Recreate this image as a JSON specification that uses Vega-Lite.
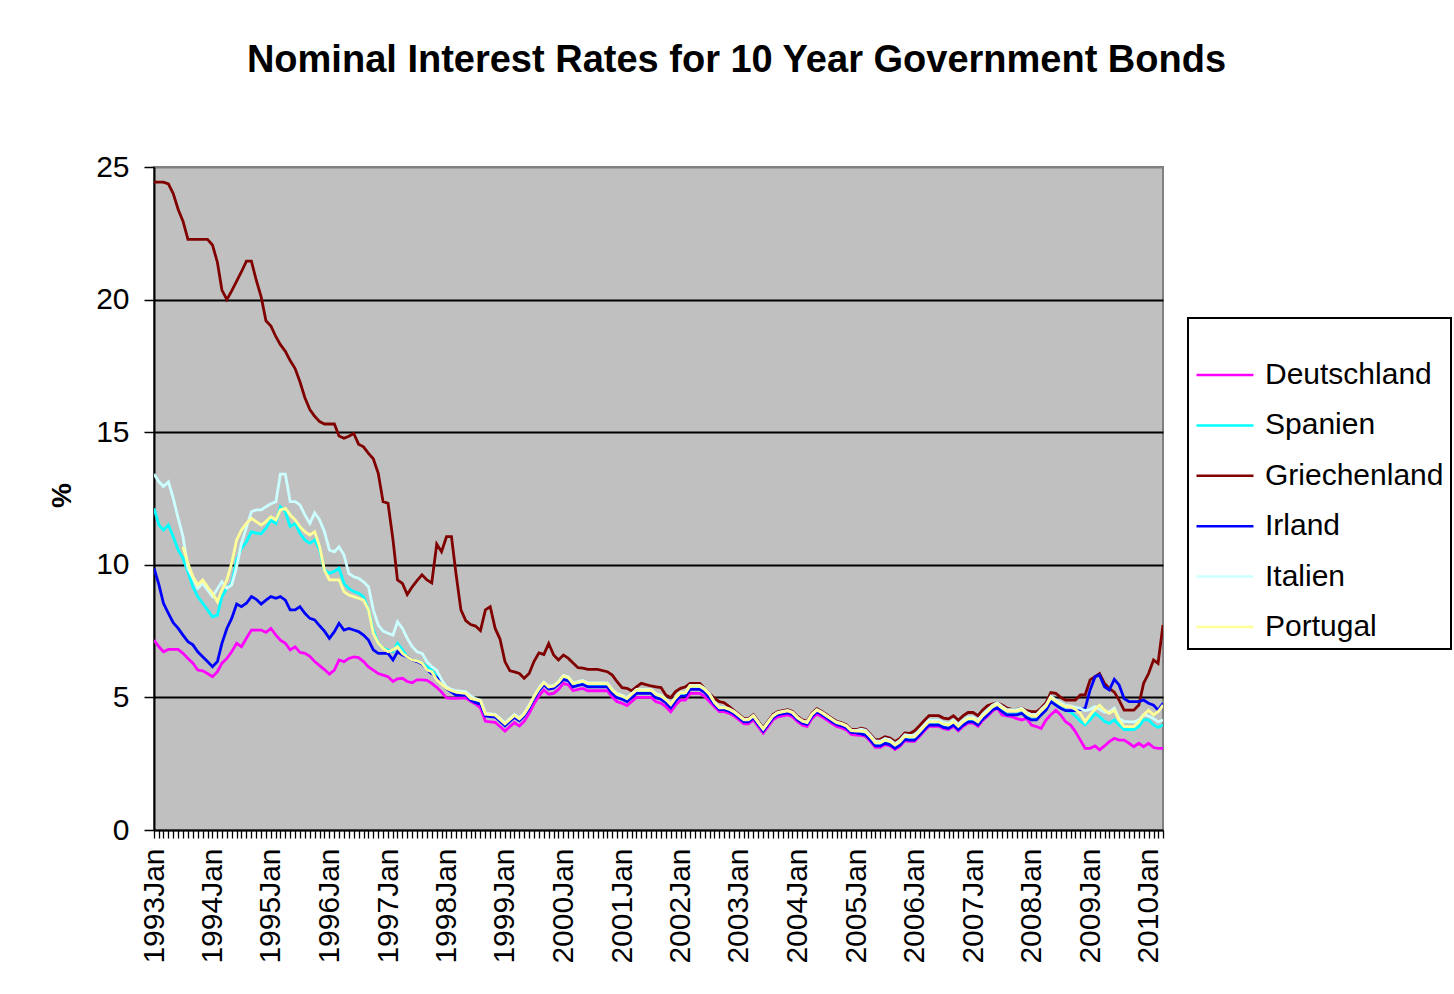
{
  "$schema": "https://vega.github.io/schema/vega-lite/v6.json",
  "autosize": {"type": "none"},
  "width": 1009,
  "height": 663,
  "padding": {"left": 154, "top": 167, "right": 291, "bottom": 164},
  "background": "white",
  "config": {
    "font": "Liberation Sans",
    "view": {"fill": "#C0C0C0", "stroke": "#808080", "strokeWidth": 2}
  },
  "title": {
    "text": "Nominal Interest Rates for 10 Year Government Bonds",
    "font": "Liberation Sans",
    "fontSize": 38,
    "fontWeight": "bold",
    "color": "black",
    "anchor": "middle",
    "dx": 78,
    "offset": 72
  },
  "data": {
    "values": [
      {"month": "1993-01-01", "Deutschland": 7.16, "Spanien": 12.13, "Griechenland": 24.43, "Irland": 9.87, "Italien": 13.42, "Portugal": null},
      {"month": "1993-02-01", "Deutschland": 6.91, "Spanien": 11.5, "Griechenland": 24.43, "Irland": 9.24, "Italien": 13.13, "Portugal": null},
      {"month": "1993-03-01", "Deutschland": 6.72, "Spanien": 11.31, "Griechenland": 24.43, "Irland": 8.55, "Italien": 12.95, "Portugal": null},
      {"month": "1993-04-01", "Deutschland": 6.81, "Spanien": 11.5, "Griechenland": 24.36, "Irland": 8.17, "Italien": 13.13, "Portugal": null},
      {"month": "1993-05-01", "Deutschland": 6.81, "Spanien": 11.06, "Griechenland": 24.0, "Irland": 7.82, "Italien": 12.51, "Portugal": null},
      {"month": "1993-06-01", "Deutschland": 6.81, "Spanien": 10.56, "Griechenland": 23.4, "Irland": 7.6, "Italien": 11.75, "Portugal": null},
      {"month": "1993-07-01", "Deutschland": 6.66, "Spanien": 10.24, "Griechenland": 22.96, "Irland": 7.35, "Italien": 11.06, "Portugal": 10.68},
      {"month": "1993-08-01", "Deutschland": 6.47, "Spanien": 9.74, "Griechenland": 22.27, "Irland": 7.1, "Italien": 9.87, "Portugal": 10.06},
      {"month": "1993-09-01", "Deutschland": 6.29, "Spanien": 9.17, "Griechenland": 22.27, "Irland": 6.98, "Italien": 9.5, "Portugal": 9.55},
      {"month": "1993-10-01", "Deutschland": 6.03, "Spanien": 8.8, "Griechenland": 22.27, "Irland": 6.72, "Italien": 9.11, "Portugal": 9.24},
      {"month": "1993-11-01", "Deutschland": 6.0, "Spanien": 8.55, "Griechenland": 22.27, "Irland": 6.53, "Italien": 9.3, "Portugal": 9.43},
      {"month": "1993-12-01", "Deutschland": 5.9, "Spanien": 8.3, "Griechenland": 22.27, "Irland": 6.35, "Italien": 9.05, "Portugal": 9.17},
      {"month": "1994-01-01", "Deutschland": 5.78, "Spanien": 8.04, "Griechenland": 22.06, "Irland": 6.16, "Italien": 8.8, "Portugal": 8.93},
      {"month": "1994-02-01", "Deutschland": 5.97, "Spanien": 8.1, "Griechenland": 21.4, "Irland": 6.35, "Italien": 9.1, "Portugal": 8.61},
      {"month": "1994-03-01", "Deutschland": 6.29, "Spanien": 8.8, "Griechenland": 20.36, "Irland": 7.04, "Italien": 9.36, "Portugal": 9.05},
      {"month": "1994-04-01", "Deutschland": 6.47, "Spanien": 9.11, "Griechenland": 20.0, "Irland": 7.6, "Italien": 9.11, "Portugal": 9.43},
      {"month": "1994-05-01", "Deutschland": 6.72, "Spanien": 9.3, "Griechenland": 20.33, "Irland": 7.98, "Italien": 9.24, "Portugal": 10.06},
      {"month": "1994-06-01", "Deutschland": 7.04, "Spanien": 10.18, "Griechenland": 20.7, "Irland": 8.52, "Italien": 9.93, "Portugal": 10.94},
      {"month": "1994-07-01", "Deutschland": 6.91, "Spanien": 10.62, "Griechenland": 21.05, "Irland": 8.42, "Italien": 10.81, "Portugal": 11.31},
      {"month": "1994-08-01", "Deutschland": 7.23, "Spanien": 10.87, "Griechenland": 21.45, "Irland": 8.55, "Italien": 11.41, "Portugal": 11.56},
      {"month": "1994-09-01", "Deutschland": 7.54, "Spanien": 11.25, "Griechenland": 21.45, "Irland": 8.8, "Italien": 12.0, "Portugal": 11.75},
      {"month": "1994-10-01", "Deutschland": 7.54, "Spanien": 11.19, "Griechenland": 20.74, "Irland": 8.7, "Italien": 12.07, "Portugal": 11.63},
      {"month": "1994-11-01", "Deutschland": 7.54, "Spanien": 11.17, "Griechenland": 20.1, "Irland": 8.52, "Italien": 12.07, "Portugal": 11.5},
      {"month": "1994-12-01", "Deutschland": 7.45, "Spanien": 11.38, "Griechenland": 19.2, "Irland": 8.67, "Italien": 12.19, "Portugal": 11.63},
      {"month": "1995-01-01", "Deutschland": 7.6, "Spanien": 11.69, "Griechenland": 19.0, "Irland": 8.8, "Italien": 12.3, "Portugal": 11.81},
      {"month": "1995-02-01", "Deutschland": 7.35, "Spanien": 11.56, "Griechenland": 18.6, "Irland": 8.74, "Italien": 12.38, "Portugal": 11.69},
      {"month": "1995-03-01", "Deutschland": 7.16, "Spanien": 12.19, "Griechenland": 18.3, "Irland": 8.8, "Italien": 13.42, "Portugal": 12.07},
      {"month": "1995-04-01", "Deutschland": 7.04, "Spanien": 12.0, "Griechenland": 18.05, "Irland": 8.67, "Italien": 13.42, "Portugal": 12.13},
      {"month": "1995-05-01", "Deutschland": 6.79, "Spanien": 11.44, "Griechenland": 17.7, "Irland": 8.3, "Italien": 12.38, "Portugal": 11.88},
      {"month": "1995-06-01", "Deutschland": 6.91, "Spanien": 11.56, "Griechenland": 17.4, "Irland": 8.3, "Italien": 12.38, "Portugal": 11.69},
      {"month": "1995-07-01", "Deutschland": 6.7, "Spanien": 11.19, "Griechenland": 16.9, "Irland": 8.42, "Italien": 12.26, "Portugal": 11.44},
      {"month": "1995-08-01", "Deutschland": 6.66, "Spanien": 10.94, "Griechenland": 16.3, "Irland": 8.17, "Italien": 11.88, "Portugal": 11.25},
      {"month": "1995-09-01", "Deutschland": 6.55, "Spanien": 10.81, "Griechenland": 15.85, "Irland": 7.98, "Italien": 11.56, "Portugal": 11.12},
      {"month": "1995-10-01", "Deutschland": 6.35, "Spanien": 10.94, "Griechenland": 15.6, "Irland": 7.92, "Italien": 11.96, "Portugal": 11.25},
      {"month": "1995-11-01", "Deutschland": 6.2, "Spanien": 10.56, "Griechenland": 15.4, "Irland": 7.7, "Italien": 11.69, "Portugal": 10.68},
      {"month": "1995-12-01", "Deutschland": 6.05, "Spanien": 9.8, "Griechenland": 15.31, "Irland": 7.5, "Italien": 11.25, "Portugal": 9.8},
      {"month": "1996-01-01", "Deutschland": 5.88, "Spanien": 9.68, "Griechenland": 15.31, "Irland": 7.23, "Italien": 10.56, "Portugal": 9.43},
      {"month": "1996-02-01", "Deutschland": 6.03, "Spanien": 9.75, "Griechenland": 15.31, "Irland": 7.48, "Italien": 10.49, "Portugal": 9.43},
      {"month": "1996-03-01", "Deutschland": 6.41, "Spanien": 9.87, "Griechenland": 14.86, "Irland": 7.79, "Italien": 10.68, "Portugal": 9.43},
      {"month": "1996-04-01", "Deutschland": 6.35, "Spanien": 9.3, "Griechenland": 14.77, "Irland": 7.54, "Italien": 10.37, "Portugal": 8.99},
      {"month": "1996-05-01", "Deutschland": 6.47, "Spanien": 9.11, "Griechenland": 14.85, "Irland": 7.6, "Italien": 9.68, "Portugal": 8.86},
      {"month": "1996-06-01", "Deutschland": 6.53, "Spanien": 8.99, "Griechenland": 14.95, "Irland": 7.54, "Italien": 9.55, "Portugal": 8.8},
      {"month": "1996-07-01", "Deutschland": 6.5, "Spanien": 8.93, "Griechenland": 14.55, "Irland": 7.48, "Italien": 9.49, "Portugal": 8.74},
      {"month": "1996-08-01", "Deutschland": 6.35, "Spanien": 8.8, "Griechenland": 14.45, "Irland": 7.35, "Italien": 9.36, "Portugal": 8.67},
      {"month": "1996-09-01", "Deutschland": 6.15, "Spanien": 8.3, "Griechenland": 14.2, "Irland": 7.16, "Italien": 9.17, "Portugal": 8.3},
      {"month": "1996-10-01", "Deutschland": 6.03, "Spanien": 7.54, "Griechenland": 14.0, "Irland": 6.79, "Italien": 8.3, "Portugal": 7.42},
      {"month": "1996-11-01", "Deutschland": 5.9, "Spanien": 7.04, "Griechenland": 13.45, "Irland": 6.66, "Italien": 7.73, "Portugal": 7.04},
      {"month": "1996-12-01", "Deutschland": 5.84, "Spanien": 6.85, "Griechenland": 12.38, "Irland": 6.66, "Italien": 7.5, "Portugal": 6.85},
      {"month": "1997-01-01", "Deutschland": 5.78, "Spanien": 6.79, "Griechenland": 12.32, "Irland": 6.66, "Italien": 7.42, "Portugal": 6.72},
      {"month": "1997-02-01", "Deutschland": 5.6, "Spanien": 6.72, "Griechenland": 10.94, "Irland": 6.41, "Italien": 7.35, "Portugal": 6.79},
      {"month": "1997-03-01", "Deutschland": 5.7, "Spanien": 7.04, "Griechenland": 9.43, "Irland": 6.72, "Italien": 7.85, "Portugal": 6.91},
      {"month": "1997-04-01", "Deutschland": 5.72, "Spanien": 6.79, "Griechenland": 9.3, "Irland": 6.6, "Italien": 7.6, "Portugal": 6.66},
      {"month": "1997-05-01", "Deutschland": 5.6, "Spanien": 6.53, "Griechenland": 8.88, "Irland": 6.53, "Italien": 7.23, "Portugal": 6.53},
      {"month": "1997-06-01", "Deutschland": 5.55, "Spanien": 6.41, "Griechenland": 9.17, "Irland": 6.41, "Italien": 6.91, "Portugal": 6.41},
      {"month": "1997-07-01", "Deutschland": 5.66, "Spanien": 6.38, "Griechenland": 9.4, "Irland": 6.35, "Italien": 6.72, "Portugal": 6.38},
      {"month": "1997-08-01", "Deutschland": 5.66, "Spanien": 6.3, "Griechenland": 9.62, "Irland": 6.26, "Italien": 6.66, "Portugal": 6.29},
      {"month": "1997-09-01", "Deutschland": 5.64, "Spanien": 6.16, "Griechenland": 9.43, "Irland": 6.03, "Italien": 6.35, "Portugal": 6.03},
      {"month": "1997-10-01", "Deutschland": 5.53, "Spanien": 6.03, "Griechenland": 9.32, "Irland": 5.9, "Italien": 6.16, "Portugal": 5.97},
      {"month": "1997-11-01", "Deutschland": 5.38, "Spanien": 5.8, "Griechenland": 10.78, "Irland": 5.75, "Italien": 6.03, "Portugal": 5.66},
      {"month": "1997-12-01", "Deutschland": 5.2, "Spanien": 5.6, "Griechenland": 10.49, "Irland": 5.55, "Italien": 5.66, "Portugal": 5.5},
      {"month": "1998-01-01", "Deutschland": 4.98, "Spanien": 5.34, "Griechenland": 11.06, "Irland": 5.34, "Italien": 5.4, "Portugal": 5.34},
      {"month": "1998-02-01", "Deutschland": 4.96, "Spanien": 5.25, "Griechenland": 11.06, "Irland": 5.2, "Italien": 5.3, "Portugal": 5.25},
      {"month": "1998-03-01", "Deutschland": 4.96, "Spanien": 5.22, "Griechenland": 9.68, "Irland": 5.09, "Italien": 5.25, "Portugal": 5.2},
      {"month": "1998-04-01", "Deutschland": 4.97, "Spanien": 5.18, "Griechenland": 8.3, "Irland": 5.09, "Italien": 5.24, "Portugal": 5.17},
      {"month": "1998-05-01", "Deutschland": 4.98, "Spanien": 5.15, "Griechenland": 7.9, "Irland": 5.09, "Italien": 5.22, "Portugal": 5.15},
      {"month": "1998-06-01", "Deutschland": 4.85, "Spanien": 5.0, "Griechenland": 7.75, "Irland": 4.9, "Italien": 5.05, "Portugal": 4.96},
      {"month": "1998-07-01", "Deutschland": 4.75, "Spanien": 4.9, "Griechenland": 7.69, "Irland": 4.8, "Italien": 4.95, "Portugal": 4.92},
      {"month": "1998-08-01", "Deutschland": 4.6, "Spanien": 4.82, "Griechenland": 7.52, "Irland": 4.75, "Italien": 4.9, "Portugal": 4.87},
      {"month": "1998-09-01", "Deutschland": 4.1, "Spanien": 4.32, "Griechenland": 8.3, "Irland": 4.3, "Italien": 4.4, "Portugal": 4.37},
      {"month": "1998-10-01", "Deutschland": 4.08, "Spanien": 4.3, "Griechenland": 8.42, "Irland": 4.28, "Italien": 4.38, "Portugal": 4.35},
      {"month": "1998-11-01", "Deutschland": 4.06, "Spanien": 4.28, "Griechenland": 7.6, "Irland": 4.26, "Italien": 4.36, "Portugal": 4.33},
      {"month": "1998-12-01", "Deutschland": 3.9, "Spanien": 4.12, "Griechenland": 7.2, "Irland": 4.1, "Italien": 4.2, "Portugal": 4.17},
      {"month": "1999-01-01", "Deutschland": 3.73, "Spanien": 3.95, "Griechenland": 6.35, "Irland": 3.93, "Italien": 4.03, "Portugal": 4.0},
      {"month": "1999-02-01", "Deutschland": 3.9, "Spanien": 4.12, "Griechenland": 6.0, "Irland": 4.1, "Italien": 4.2, "Portugal": 4.17},
      {"month": "1999-03-01", "Deutschland": 4.05, "Spanien": 4.27, "Griechenland": 5.96, "Irland": 4.25, "Italien": 4.35, "Portugal": 4.32},
      {"month": "1999-04-01", "Deutschland": 3.92, "Spanien": 4.14, "Griechenland": 5.9, "Irland": 4.12, "Italien": 4.22, "Portugal": 4.19},
      {"month": "1999-05-01", "Deutschland": 4.1, "Spanien": 4.32, "Griechenland": 5.72, "Irland": 4.3, "Italien": 4.4, "Portugal": 4.37},
      {"month": "1999-06-01", "Deutschland": 4.4, "Spanien": 4.62, "Griechenland": 5.9, "Irland": 4.6, "Italien": 4.7, "Portugal": 4.67},
      {"month": "1999-07-01", "Deutschland": 4.75, "Spanien": 4.97, "Griechenland": 6.35, "Irland": 4.95, "Italien": 5.05, "Portugal": 5.02},
      {"month": "1999-08-01", "Deutschland": 5.05, "Spanien": 5.27, "Griechenland": 6.68, "Irland": 5.25, "Italien": 5.35, "Portugal": 5.32},
      {"month": "1999-09-01", "Deutschland": 5.28, "Spanien": 5.5, "Griechenland": 6.62, "Irland": 5.48, "Italien": 5.58, "Portugal": 5.55},
      {"month": "1999-10-01", "Deutschland": 5.12, "Spanien": 5.34, "Griechenland": 7.03, "Irland": 5.32, "Italien": 5.42, "Portugal": 5.39},
      {"month": "1999-11-01", "Deutschland": 5.15, "Spanien": 5.37, "Griechenland": 6.6, "Irland": 5.35, "Italien": 5.45, "Portugal": 5.42},
      {"month": "1999-12-01", "Deutschland": 5.3, "Spanien": 5.52, "Griechenland": 6.41, "Irland": 5.5, "Italien": 5.6, "Portugal": 5.57},
      {"month": "2000-01-01", "Deutschland": 5.53, "Spanien": 5.75, "Griechenland": 6.6, "Irland": 5.68, "Italien": 5.83, "Portugal": 5.8},
      {"month": "2000-02-01", "Deutschland": 5.47, "Spanien": 5.69, "Griechenland": 6.47, "Irland": 5.62, "Italien": 5.77, "Portugal": 5.74},
      {"month": "2000-03-01", "Deutschland": 5.25, "Spanien": 5.47, "Griechenland": 6.3, "Irland": 5.4, "Italien": 5.55, "Portugal": 5.52},
      {"month": "2000-04-01", "Deutschland": 5.3, "Spanien": 5.52, "Griechenland": 6.12, "Irland": 5.45, "Italien": 5.6, "Portugal": 5.57},
      {"month": "2000-05-01", "Deutschland": 5.34, "Spanien": 5.56, "Griechenland": 6.1, "Irland": 5.49, "Italien": 5.64, "Portugal": 5.61},
      {"month": "2000-06-01", "Deutschland": 5.25, "Spanien": 5.47, "Griechenland": 6.06, "Irland": 5.4, "Italien": 5.55, "Portugal": 5.52},
      {"month": "2000-08-01", "Deutschland": 5.25, "Spanien": 5.47, "Griechenland": 6.06, "Irland": 5.4, "Italien": 5.55, "Portugal": 5.52},
      {"month": "2000-10-01", "Deutschland": 5.25, "Spanien": 5.47, "Griechenland": 5.97, "Irland": 5.4, "Italien": 5.55, "Portugal": 5.52},
      {"month": "2000-11-01", "Deutschland": 5.0, "Spanien": 5.22, "Griechenland": 5.84, "Irland": 5.15, "Italien": 5.3, "Portugal": 5.27},
      {"month": "2000-12-01", "Deutschland": 4.84, "Spanien": 5.06, "Griechenland": 5.59, "Irland": 4.99, "Italien": 5.14, "Portugal": 5.11},
      {"month": "2001-01-01", "Deutschland": 4.78, "Spanien": 5.0, "Griechenland": 5.37, "Irland": 4.93, "Italien": 5.08, "Portugal": 5.05},
      {"month": "2001-02-01", "Deutschland": 4.69, "Spanien": 4.91, "Griechenland": 5.34, "Irland": 4.84, "Italien": 4.99, "Portugal": 4.96},
      {"month": "2001-03-01", "Deutschland": 4.84, "Spanien": 5.06, "Griechenland": 5.25, "Irland": 4.99, "Italien": 5.14, "Portugal": 5.11},
      {"month": "2001-04-01", "Deutschland": 5.0, "Spanien": 5.22, "Griechenland": 5.4, "Irland": 5.15, "Italien": 5.3, "Portugal": 5.27},
      {"month": "2001-05-01", "Deutschland": 5.0, "Spanien": 5.22, "Griechenland": 5.53, "Irland": 5.15, "Italien": 5.3, "Portugal": 5.27},
      {"month": "2001-07-01", "Deutschland": 5.0, "Spanien": 5.22, "Griechenland": 5.43, "Irland": 5.15, "Italien": 5.3, "Portugal": 5.27},
      {"month": "2001-08-01", "Deutschland": 4.84, "Spanien": 5.06, "Griechenland": 5.4, "Irland": 4.99, "Italien": 5.14, "Portugal": 5.11},
      {"month": "2001-09-01", "Deutschland": 4.78, "Spanien": 5.0, "Griechenland": 5.37, "Irland": 4.93, "Italien": 5.08, "Portugal": 5.05},
      {"month": "2001-10-01", "Deutschland": 4.65, "Spanien": 4.87, "Griechenland": 5.09, "Irland": 4.8, "Italien": 4.95, "Portugal": 4.92},
      {"month": "2001-11-01", "Deutschland": 4.46, "Spanien": 4.68, "Griechenland": 4.99, "Irland": 4.61, "Italien": 4.76, "Portugal": 4.73},
      {"month": "2001-12-01", "Deutschland": 4.71, "Spanien": 4.93, "Griechenland": 5.22, "Irland": 4.86, "Italien": 5.01, "Portugal": 4.98},
      {"month": "2002-01-01", "Deutschland": 4.9, "Spanien": 5.12, "Griechenland": 5.34, "Irland": 5.05, "Italien": 5.2, "Portugal": 5.17},
      {"month": "2002-02-01", "Deutschland": 4.9, "Spanien": 5.12, "Griechenland": 5.4, "Irland": 5.05, "Italien": 5.2, "Portugal": 5.17},
      {"month": "2002-03-01", "Deutschland": 5.15, "Spanien": 5.37, "Griechenland": 5.53, "Irland": 5.3, "Italien": 5.45, "Portugal": 5.42},
      {"month": "2002-05-01", "Deutschland": 5.15, "Spanien": 5.37, "Griechenland": 5.53, "Irland": 5.3, "Italien": 5.45, "Portugal": 5.42},
      {"month": "2002-06-01", "Deutschland": 5.03, "Spanien": 5.25, "Griechenland": 5.34, "Irland": 5.18, "Italien": 5.33, "Portugal": 5.3},
      {"month": "2002-07-01", "Deutschland": 4.84, "Spanien": 5.06, "Griechenland": 5.15, "Irland": 4.99, "Italien": 5.14, "Portugal": 5.11},
      {"month": "2002-08-01", "Deutschland": 4.65, "Spanien": 4.78, "Griechenland": 4.96, "Irland": 4.73, "Italien": 4.82, "Portugal": 4.8},
      {"month": "2002-09-01", "Deutschland": 4.46, "Spanien": 4.59, "Griechenland": 4.84, "Irland": 4.54, "Italien": 4.63, "Portugal": 4.61},
      {"month": "2002-10-01", "Deutschland": 4.46, "Spanien": 4.59, "Griechenland": 4.8, "Irland": 4.54, "Italien": 4.63, "Portugal": 4.61},
      {"month": "2002-11-01", "Deutschland": 4.4, "Spanien": 4.53, "Griechenland": 4.65, "Irland": 4.48, "Italien": 4.57, "Portugal": 4.55},
      {"month": "2002-12-01", "Deutschland": 4.3, "Spanien": 4.43, "Griechenland": 4.5, "Irland": 4.38, "Italien": 4.47, "Portugal": 4.45},
      {"month": "2003-01-01", "Deutschland": 4.15, "Spanien": 4.28, "Griechenland": 4.35, "Irland": 4.23, "Italien": 4.32, "Portugal": 4.3},
      {"month": "2003-02-01", "Deutschland": 4.0, "Spanien": 4.13, "Griechenland": 4.2, "Irland": 4.08, "Italien": 4.17, "Portugal": 4.15},
      {"month": "2003-03-01", "Deutschland": 4.0, "Spanien": 4.13, "Griechenland": 4.2, "Irland": 4.08, "Italien": 4.17, "Portugal": 4.15},
      {"month": "2003-04-01", "Deutschland": 4.15, "Spanien": 4.28, "Griechenland": 4.35, "Irland": 4.23, "Italien": 4.32, "Portugal": 4.3},
      {"month": "2003-05-01", "Deutschland": 3.9, "Spanien": 4.03, "Griechenland": 4.1, "Irland": 3.98, "Italien": 4.07, "Portugal": 4.05},
      {"month": "2003-06-01", "Deutschland": 3.65, "Spanien": 3.78, "Griechenland": 3.85, "Irland": 3.73, "Italien": 3.82, "Portugal": 3.8},
      {"month": "2003-07-01", "Deutschland": 3.9, "Spanien": 4.03, "Griechenland": 4.1, "Irland": 3.98, "Italien": 4.07, "Portugal": 4.05},
      {"month": "2003-08-01", "Deutschland": 4.15, "Spanien": 4.28, "Griechenland": 4.35, "Irland": 4.23, "Italien": 4.32, "Portugal": 4.3},
      {"month": "2003-09-01", "Deutschland": 4.27, "Spanien": 4.4, "Griechenland": 4.47, "Irland": 4.35, "Italien": 4.44, "Portugal": 4.42},
      {"month": "2003-11-01", "Deutschland": 4.34, "Spanien": 4.47, "Griechenland": 4.54, "Irland": 4.42, "Italien": 4.51, "Portugal": 4.49},
      {"month": "2003-12-01", "Deutschland": 4.27, "Spanien": 4.4, "Griechenland": 4.47, "Irland": 4.35, "Italien": 4.44, "Portugal": 4.42},
      {"month": "2004-01-01", "Deutschland": 4.08, "Spanien": 4.21, "Griechenland": 4.28, "Irland": 4.16, "Italien": 4.25, "Portugal": 4.23},
      {"month": "2004-02-01", "Deutschland": 3.95, "Spanien": 4.08, "Griechenland": 4.15, "Irland": 4.03, "Italien": 4.12, "Portugal": 4.1},
      {"month": "2004-03-01", "Deutschland": 3.9, "Spanien": 4.03, "Griechenland": 4.1, "Irland": 3.98, "Italien": 4.07, "Portugal": 4.05},
      {"month": "2004-04-01", "Deutschland": 4.21, "Spanien": 4.34, "Griechenland": 4.41, "Irland": 4.29, "Italien": 4.38, "Portugal": 4.36},
      {"month": "2004-05-01", "Deutschland": 4.37, "Spanien": 4.5, "Griechenland": 4.57, "Irland": 4.45, "Italien": 4.54, "Portugal": 4.52},
      {"month": "2004-06-01", "Deutschland": 4.27, "Spanien": 4.4, "Griechenland": 4.47, "Irland": 4.35, "Italien": 4.44, "Portugal": 4.42},
      {"month": "2004-07-01", "Deutschland": 4.15, "Spanien": 4.28, "Griechenland": 4.35, "Irland": 4.23, "Italien": 4.32, "Portugal": 4.3},
      {"month": "2004-08-01", "Deutschland": 4.02, "Spanien": 4.15, "Griechenland": 4.22, "Irland": 4.1, "Italien": 4.19, "Portugal": 4.17},
      {"month": "2004-09-01", "Deutschland": 3.9, "Spanien": 4.03, "Griechenland": 4.1, "Irland": 3.98, "Italien": 4.07, "Portugal": 4.05},
      {"month": "2004-10-01", "Deutschland": 3.85, "Spanien": 3.98, "Griechenland": 4.05, "Irland": 3.93, "Italien": 4.02, "Portugal": 4.0},
      {"month": "2004-11-01", "Deutschland": 3.77, "Spanien": 3.9, "Griechenland": 3.97, "Irland": 3.85, "Italien": 3.94, "Portugal": 3.92},
      {"month": "2004-12-01", "Deutschland": 3.6, "Spanien": 3.73, "Griechenland": 3.8, "Irland": 3.68, "Italien": 3.77, "Portugal": 3.75},
      {"month": "2005-01-01", "Deutschland": 3.58, "Spanien": 3.71, "Griechenland": 3.78, "Irland": 3.66, "Italien": 3.75, "Portugal": 3.73},
      {"month": "2005-02-01", "Deutschland": 3.57, "Spanien": 3.68, "Griechenland": 3.84, "Irland": 3.62, "Italien": 3.8, "Portugal": 3.74},
      {"month": "2005-03-01", "Deutschland": 3.53, "Spanien": 3.64, "Griechenland": 3.8, "Irland": 3.58, "Italien": 3.76, "Portugal": 3.7},
      {"month": "2005-04-01", "Deutschland": 3.34, "Spanien": 3.45, "Griechenland": 3.6, "Irland": 3.39, "Italien": 3.57, "Portugal": 3.51},
      {"month": "2005-05-01", "Deutschland": 3.12, "Spanien": 3.23, "Griechenland": 3.4, "Irland": 3.17, "Italien": 3.35, "Portugal": 3.29},
      {"month": "2005-06-01", "Deutschland": 3.12, "Spanien": 3.23, "Griechenland": 3.42, "Irland": 3.17, "Italien": 3.35, "Portugal": 3.29},
      {"month": "2005-07-01", "Deutschland": 3.22, "Spanien": 3.33, "Griechenland": 3.52, "Irland": 3.27, "Italien": 3.45, "Portugal": 3.39},
      {"month": "2005-08-01", "Deutschland": 3.17, "Spanien": 3.28, "Griechenland": 3.47, "Irland": 3.22, "Italien": 3.4, "Portugal": 3.34},
      {"month": "2005-09-01", "Deutschland": 3.03, "Spanien": 3.14, "Griechenland": 3.33, "Irland": 3.08, "Italien": 3.26, "Portugal": 3.2},
      {"month": "2005-10-01", "Deutschland": 3.15, "Spanien": 3.26, "Griechenland": 3.45, "Irland": 3.2, "Italien": 3.38, "Portugal": 3.32},
      {"month": "2005-11-01", "Deutschland": 3.36, "Spanien": 3.47, "Griechenland": 3.66, "Irland": 3.41, "Italien": 3.59, "Portugal": 3.53},
      {"month": "2005-12-01", "Deutschland": 3.34, "Spanien": 3.45, "Griechenland": 3.64, "Irland": 3.39, "Italien": 3.57, "Portugal": 3.51},
      {"month": "2006-01-01", "Deutschland": 3.34, "Spanien": 3.45, "Griechenland": 3.74, "Irland": 3.39, "Italien": 3.57, "Portugal": 3.51},
      {"month": "2006-02-01", "Deutschland": 3.53, "Spanien": 3.64, "Griechenland": 3.93, "Irland": 3.58, "Italien": 3.76, "Portugal": 3.7},
      {"month": "2006-03-01", "Deutschland": 3.72, "Spanien": 3.83, "Griechenland": 4.12, "Irland": 3.77, "Italien": 3.95, "Portugal": 3.89},
      {"month": "2006-04-01", "Deutschland": 3.91, "Spanien": 4.02, "Griechenland": 4.31, "Irland": 3.96, "Italien": 4.14, "Portugal": 4.08},
      {"month": "2006-05-01", "Deutschland": 3.91, "Spanien": 4.02, "Griechenland": 4.31, "Irland": 3.96, "Italien": 4.14, "Portugal": 4.08},
      {"month": "2006-06-01", "Deutschland": 3.91, "Spanien": 4.02, "Griechenland": 4.31, "Irland": 3.96, "Italien": 4.14, "Portugal": 4.08},
      {"month": "2006-07-01", "Deutschland": 3.82, "Spanien": 3.93, "Griechenland": 4.22, "Irland": 3.87, "Italien": 4.05, "Portugal": 3.99},
      {"month": "2006-08-01", "Deutschland": 3.79, "Spanien": 3.9, "Griechenland": 4.19, "Irland": 3.84, "Italien": 4.02, "Portugal": 3.96},
      {"month": "2006-09-01", "Deutschland": 3.91, "Spanien": 4.02, "Griechenland": 4.31, "Irland": 3.96, "Italien": 4.14, "Portugal": 4.08},
      {"month": "2006-10-01", "Deutschland": 3.74, "Spanien": 3.85, "Griechenland": 4.14, "Irland": 3.79, "Italien": 3.97, "Portugal": 3.91},
      {"month": "2006-11-01", "Deutschland": 3.91, "Spanien": 4.02, "Griechenland": 4.31, "Irland": 3.96, "Italien": 4.14, "Portugal": 4.08},
      {"month": "2006-12-01", "Deutschland": 4.03, "Spanien": 4.14, "Griechenland": 4.43, "Irland": 4.08, "Italien": 4.26, "Portugal": 4.2},
      {"month": "2007-01-01", "Deutschland": 4.03, "Spanien": 4.14, "Griechenland": 4.43, "Irland": 4.08, "Italien": 4.26, "Portugal": 4.2},
      {"month": "2007-02-01", "Deutschland": 3.91, "Spanien": 4.02, "Griechenland": 4.31, "Irland": 3.96, "Italien": 4.14, "Portugal": 4.08},
      {"month": "2007-03-01", "Deutschland": 4.12, "Spanien": 4.23, "Griechenland": 4.52, "Irland": 4.17, "Italien": 4.35, "Portugal": 4.29},
      {"month": "2007-04-01", "Deutschland": 4.29, "Spanien": 4.4, "Griechenland": 4.69, "Irland": 4.34, "Italien": 4.52, "Portugal": 4.46},
      {"month": "2007-05-01", "Deutschland": 4.47, "Spanien": 4.58, "Griechenland": 4.75, "Irland": 4.52, "Italien": 4.7, "Portugal": 4.64},
      {"month": "2007-06-01", "Deutschland": 4.6, "Spanien": 4.68, "Griechenland": 4.8, "Irland": 4.62, "Italien": 4.8, "Portugal": 4.74},
      {"month": "2007-07-01", "Deutschland": 4.34, "Spanien": 4.48, "Griechenland": 4.71, "Irland": 4.46, "Italien": 4.66, "Portugal": 4.61},
      {"month": "2007-08-01", "Deutschland": 4.3, "Spanien": 4.36, "Griechenland": 4.6, "Irland": 4.34, "Italien": 4.54, "Portugal": 4.49},
      {"month": "2007-09-01", "Deutschland": 4.27, "Spanien": 4.36, "Griechenland": 4.55, "Irland": 4.34, "Italien": 4.54, "Portugal": 4.49},
      {"month": "2007-10-01", "Deutschland": 4.2, "Spanien": 4.36, "Griechenland": 4.55, "Irland": 4.34, "Italien": 4.54, "Portugal": 4.49},
      {"month": "2007-11-01", "Deutschland": 4.15, "Spanien": 4.42, "Griechenland": 4.6, "Irland": 4.4, "Italien": 4.6, "Portugal": 4.55},
      {"month": "2007-12-01", "Deutschland": 4.21, "Spanien": 4.26, "Griechenland": 4.5, "Irland": 4.24, "Italien": 4.44, "Portugal": 4.39},
      {"month": "2008-01-01", "Deutschland": 3.96, "Spanien": 4.17, "Griechenland": 4.46, "Irland": 4.15, "Italien": 4.35, "Portugal": 4.3},
      {"month": "2008-02-01", "Deutschland": 3.9, "Spanien": 4.17, "Griechenland": 4.46, "Irland": 4.15, "Italien": 4.35, "Portugal": 4.3},
      {"month": "2008-03-01", "Deutschland": 3.83, "Spanien": 4.36, "Griechenland": 4.6, "Irland": 4.34, "Italien": 4.54, "Portugal": 4.49},
      {"month": "2008-04-01", "Deutschland": 4.15, "Spanien": 4.54, "Griechenland": 4.8, "Irland": 4.52, "Italien": 4.72, "Portugal": 4.67},
      {"month": "2008-05-01", "Deutschland": 4.35, "Spanien": 4.86, "Griechenland": 5.18, "Irland": 4.84, "Italien": 5.04, "Portugal": 4.99},
      {"month": "2008-06-01", "Deutschland": 4.52, "Spanien": 4.73, "Griechenland": 5.15, "Irland": 4.71, "Italien": 4.91, "Portugal": 4.86},
      {"month": "2008-07-01", "Deutschland": 4.34, "Spanien": 4.61, "Griechenland": 5.0, "Irland": 4.59, "Italien": 4.79, "Portugal": 4.74},
      {"month": "2008-08-01", "Deutschland": 4.08, "Spanien": 4.52, "Griechenland": 4.9, "Irland": 4.5, "Italien": 4.7, "Portugal": 4.65},
      {"month": "2008-09-01", "Deutschland": 3.96, "Spanien": 4.45, "Griechenland": 4.9, "Irland": 4.5, "Italien": 4.68, "Portugal": 4.65},
      {"month": "2008-10-01", "Deutschland": 3.71, "Spanien": 4.3, "Griechenland": 4.9, "Irland": 4.5, "Italien": 4.62, "Portugal": 4.55},
      {"month": "2008-11-01", "Deutschland": 3.39, "Spanien": 4.1, "Griechenland": 5.09, "Irland": 4.55, "Italien": 4.59, "Portugal": 4.4},
      {"month": "2008-12-01", "Deutschland": 3.08, "Spanien": 3.96, "Griechenland": 5.09, "Irland": 4.59, "Italien": 4.5, "Portugal": 4.08},
      {"month": "2009-01-01", "Deutschland": 3.08, "Spanien": 4.15, "Griechenland": 5.66, "Irland": 5.28, "Italien": 4.55, "Portugal": 4.34},
      {"month": "2009-02-01", "Deutschland": 3.17, "Spanien": 4.4, "Griechenland": 5.78, "Irland": 5.78, "Italien": 4.65, "Portugal": 4.55},
      {"month": "2009-03-01", "Deutschland": 3.02, "Spanien": 4.27, "Griechenland": 5.9, "Irland": 5.84, "Italien": 4.55, "Portugal": 4.71},
      {"month": "2009-04-01", "Deutschland": 3.17, "Spanien": 4.1, "Griechenland": 5.53, "Irland": 5.4, "Italien": 4.45, "Portugal": 4.52},
      {"month": "2009-05-01", "Deutschland": 3.33, "Spanien": 4.02, "Griechenland": 5.34, "Irland": 5.28, "Italien": 4.45, "Portugal": 4.4},
      {"month": "2009-06-01", "Deutschland": 3.46, "Spanien": 4.15, "Griechenland": 5.2, "Irland": 5.68, "Italien": 4.59, "Portugal": 4.52},
      {"month": "2009-07-01", "Deutschland": 3.39, "Spanien": 3.96, "Griechenland": 4.9, "Irland": 5.47, "Italien": 4.2, "Portugal": 4.15},
      {"month": "2009-08-01", "Deutschland": 3.39, "Spanien": 3.79, "Griechenland": 4.52, "Irland": 4.96, "Italien": 4.1, "Portugal": 3.9},
      {"month": "2009-09-01", "Deutschland": 3.27, "Spanien": 3.79, "Griechenland": 4.52, "Irland": 4.84, "Italien": 4.08, "Portugal": 3.9},
      {"month": "2009-10-01", "Deutschland": 3.14, "Spanien": 3.79, "Griechenland": 4.52, "Irland": 4.84, "Italien": 4.08, "Portugal": 3.9},
      {"month": "2009-11-01", "Deutschland": 3.27, "Spanien": 3.9, "Griechenland": 4.71, "Irland": 4.84, "Italien": 4.15, "Portugal": 4.08},
      {"month": "2009-12-01", "Deutschland": 3.14, "Spanien": 4.15, "Griechenland": 5.53, "Irland": 4.9, "Italien": 4.34, "Portugal": 4.34},
      {"month": "2010-01-01", "Deutschland": 3.27, "Spanien": 4.15, "Griechenland": 5.9, "Irland": 4.78, "Italien": 4.3, "Portugal": 4.52},
      {"month": "2010-02-01", "Deutschland": 3.11, "Spanien": 3.96, "Griechenland": 6.41, "Irland": 4.71, "Italien": 4.2, "Portugal": 4.34},
      {"month": "2010-03-01", "Deutschland": 3.08, "Spanien": 3.87, "Griechenland": 6.28, "Irland": 4.52, "Italien": 4.08, "Portugal": 4.46},
      {"month": "2010-04-01", "Deutschland": 3.08, "Spanien": 3.96, "Griechenland": 7.73, "Irland": 4.78, "Italien": 4.15, "Portugal": 4.71}
    ]
  },
  "transform": [
    {"fold": ["Deutschland", "Spanien", "Griechenland", "Irland", "Italien", "Portugal"], "as": ["country", "rate"]},
    {"filter": "isValid(datum.rate)"}
  ],
  "mark": {"type": "line", "strokeWidth": 2.8, "clip": true},
  "encoding": {
    "x": {
      "field": "month",
      "type": "temporal",
      "scale": {"type": "utc", "domain": [{"year": 1993, "month": 1, "date": 1, "utc": true}, {"year": 2010, "month": 4, "date": 1, "utc": true}]},
      "axis": {
        "title": null,
        "grid": false,
        "tickCount": {"interval": "month", "step": 1},
        "labelExpr": "utcmonth(datum.value) == 0 ? utcFormat(datum.value, '%Y') + 'Jan' : ''",
        "labelAngle": 270,
        "labelAlign": "right",
        "labelBaseline": "middle",
        "labelFont": "Liberation Sans",
        "labelFontSize": 30,
        "labelColor": "black",
        "labelOverlap": false,
        "labelFlush": false,
        "labelBound": false,
        "labelPadding": 10,
        "tickSize": 8,
        "tickColor": "black",
        "tickWidth": 1.3,
        "domainColor": "black",
        "domainWidth": 2
      }
    },
    "y": {
      "field": "rate",
      "type": "quantitative",
      "scale": {"domain": [0, 25], "nice": false, "zero": true},
      "axis": {
        "title": "%",
        "titleFont": "Liberation Sans",
        "titleFontSize": 28,
        "titleFontWeight": "bold",
        "titleColor": "black",
        "titleX": -92,
        "titleY": 328,
        "titleAlign": "center",
        "titleBaseline": "middle",
        "values": [0, 5, 10, 15, 20, 25],
        "labelFont": "Liberation Sans",
        "labelFontSize": 30,
        "labelColor": "black",
        "labelPadding": 15,
        "tickSize": 10,
        "tickColor": "black",
        "tickWidth": 1.5,
        "domainColor": "black",
        "domainWidth": 2,
        "grid": true,
        "gridColor": {"condition": {"test": "datum.value == 25 || datum.value == 0", "value": "#808080"}, "value": "black"},
        "gridWidth": 2
      }
    },
    "color": {
      "field": "country",
      "type": "nominal",
      "scale": {
        "domain": ["Deutschland", "Spanien", "Griechenland", "Irland", "Italien", "Portugal"],
        "range": ["#FF00FF", "#00FFFF", "#800000", "#0000FF", "#CCFFFF", "#FFFF99"]
      },
      "legend": {
        "title": " ",
        "titleFontSize": 25,
        "titlePadding": 10,
        "orient": "none",
        "legendX": 1034,
        "legendY": 151,
        "strokeColor": "black",
        "fillColor": "white",
        "padding": 7,
        "symbolType": "stroke",
        "symbolSize": 3249,
        "symbolStrokeWidth": 2.5,
        "clipHeight": 30,
        "rowPadding": 20.4,
        "labelFont": "Liberation Sans",
        "labelFontSize": 30,
        "labelColor": "black",
        "labelOffset": 10,
        "labelLimit": 400,
        "encode": {"legend": {"update": {"strokeWidth": {"value": 2}}}}
      }
    }
  }
}
